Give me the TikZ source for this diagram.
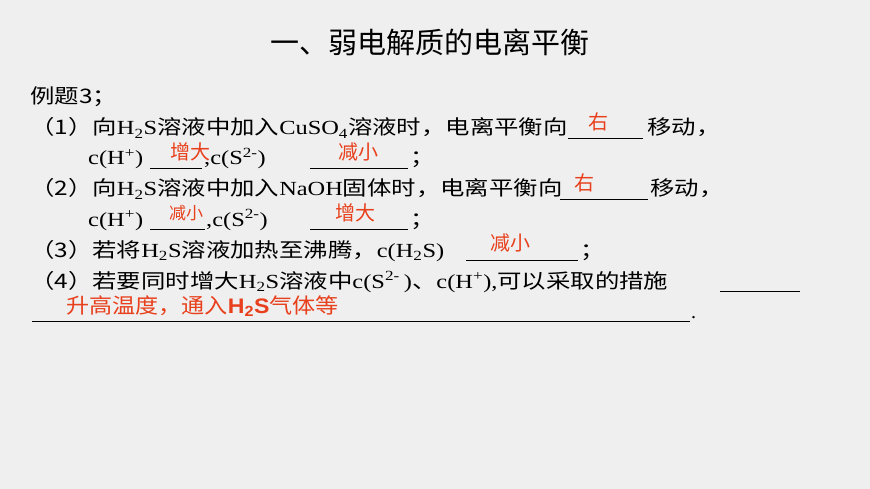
\documentclass[tikz,border=0pt]{standalone}
\usepackage{fontspec}
\setmainfont{Liberation Serif}
\newfontfamily\cjk{Noto Sans CJK SC}
\newfontfamily\sansb{Liberation Sans}
\definecolor{bg}{HTML}{EFEFEF}
\definecolor{ans}{HTML}{E8401C}
\newcommand{\subx}[1]{\textsubscript{#1}}
\newcommand{\supx}[1]{\textsuperscript{#1}}
\newcommand{\wide}[1]{\scalebox{1.22}[1]{#1}}
\tikzset{
 txt/.style={anchor=base west,inner sep=0pt,font=\fontsize{20}{22}\selectfont},
 red/.style={anchor=base,inner sep=0pt,text=ans,font=\fontsize{20}{22}\selectfont\cjk},
 blank/.style={line width=0.8pt}
}
\begin{document}
\begin{tikzpicture}[x=1pt,y=-1pt]
\fill[bg] (0,0) rectangle (870,489);
\useasboundingbox (0,0) rectangle (870,489);
\node[anchor=base,inner sep=0pt,font=\fontsize{29}{31}\selectfont\cjk] (title) at (430,54) {一、弱电解质的电离平衡};
\node[txt] (ex) at (30,104) {\wide{\cjk 例题3；}};
% (1)
\node[txt] (l1) at (30,135) {\wide{\cjk （1）向\rmfamily H\subx{2}S\cjk 溶液中加入\rmfamily CuSO\subx{4}\cjk 溶液时，电离平衡向}};
\draw[blank] (568,138) -- (643,138);
\node[red] (a1) at (598,130) {右};
\node[txt] (m1) at (647,135) {\wide{\cjk 移动，}};
\node[txt] (c1) at (88,165) {\wide{c(H\supx{+})}};
\draw[blank] (150,168) -- (202,168);
\node[red] (a2) at (190,160) {增大};
\node[txt] (s1) at (204,165) {\wide{,c(S\supx{2-})}};
\draw[blank] (310,168) -- (408,168);
\node[red] (a3) at (358,160) {减小};
\node[txt] (e1) at (410,165) {\wide{\cjk ；}};
% (2)
\node[txt] (l2) at (30,196) {\wide{\cjk （2）向\rmfamily H\subx{2}S\cjk 溶液中加入\rmfamily NaOH\cjk 固体时，电离平衡向}};
\draw[blank] (560,199) -- (648,199);
\node[red] (a4) at (584,191) {右};
\node[txt] (m2) at (650,196) {\wide{\cjk 移动，}};
\node[txt] (c2) at (88,226) {\wide{c(H\supx{+})}};
\draw[blank] (150,229) -- (205,229);
\node[red,font=\fontsize{17}{18}\selectfont\cjk] (a5) at (186,219) {减小};
\node[txt] (s2) at (206,226) {\wide{,c(S\supx{2-})}};
\draw[blank] (310,229) -- (408,229);
\node[red] (a6) at (355,221) {增大};
\node[txt] (e2) at (410,226) {\wide{\cjk ；}};
% (3)
\node[txt] (l3) at (30,257) {\wide{\cjk （3）若将\rmfamily H\subx{2}S\cjk 溶液加热至沸腾，\rmfamily c(H\subx{2}S)}};
\draw[blank] (466,260) -- (578,260);
\node[red] (a7) at (510,251) {减小};
\node[txt] (e3) at (580,257) {\wide{\cjk ；}};
% (4)
\node[txt] (l4) at (30,288) {\wide{\cjk （4）若要同时增大\rmfamily H\subx{2}S\cjk 溶液中\rmfamily c(S\supx{2-}\,)\cjk 、\rmfamily c(H\supx{+}),\cjk 可以采取的措施}};
\draw[blank] (720,291) -- (800,291);
\draw[blank] (32,321) -- (690,321);
\node[txt] (dot) at (691,318) {.};
\node[anchor=base west,inner sep=0pt,text=ans,font=\fontsize{21}{22}\selectfont\cjk] (a8) at (66,313) {\scalebox{1.1}[1]{升高温度，通入{\sansb\bfseries H\subx{2}S}气体等}};
\end{tikzpicture}
\end{document}
